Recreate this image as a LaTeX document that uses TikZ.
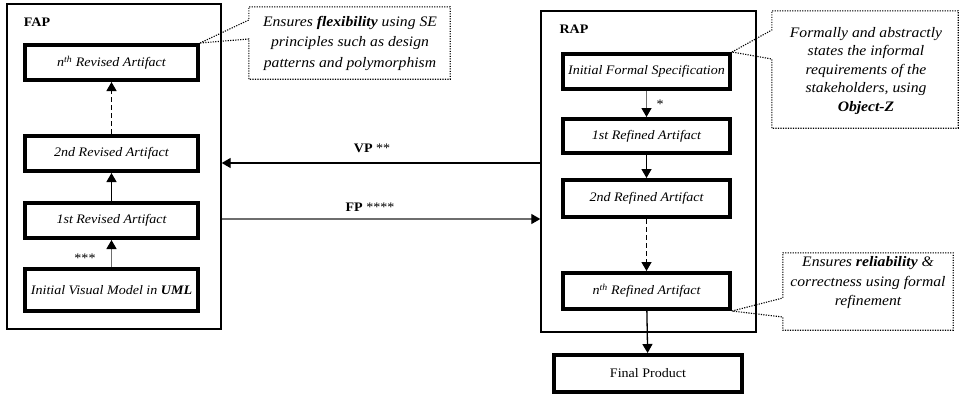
\documentclass[tikz,border=0pt]{standalone}
\usepackage{fontspec}
\setmainfont{Liberation Serif}[FakeStretch=1.08]
\usetikzlibrary{arrows.meta}
\begin{document}
\begin{tikzpicture}[x=1pt,y=-1pt,
  every node/.style={inner sep=0pt, font=\fontsize{13}{15}\selectfont},
  outerbox/.style={draw, line width=1.4pt, inner sep=0pt},
  artbox/.style={draw, line width=4pt, minimum width=173pt, minimum height=35pt, font=\fontsize{13}{15}\selectfont\itshape},
  lbl/.style={font=\fontsize{13}{15}\selectfont\bfseries},
  arr/.style={-{Triangle[length=9pt,width=10pt,color=black]}, line width=1.3pt},
  dsh/.style={dash pattern=on 5pt off 3pt},
  greyline/.style={draw={rgb,255:red,110;green,110;blue,110}},
  callout/.style={draw, dash pattern=on 1.2pt off 1.3pt, line width=1.1pt},
  cotext/.style={align=center, font=\fontsize{14.5}{#1}\selectfont\itshape}
]
\useasboundingbox (0,0) rectangle (963,400);

% FAP group
\node[outerbox, minimum width=214pt, minimum height=325pt] (fap) at (114,166.5) {};
\node[lbl] (faplbl) at (37,22) {FAP};
\node[artbox] (fn) at (111.5,62.5) {n\textsuperscript{th} Revised Artifact};
\node[artbox] (f2) at (111.5,153.5) {2nd Revised Artifact};
\node[artbox] (f1) at (111.5,220.5) {1st Revised Artifact};
\node[artbox, minimum height=42pt] (fi) at (111.5,290) {Initial Visual Model in \textbf{UML}};
\draw[arr, greyline] (fi) -- (f1);
\draw[arr] (f1) -- (f2);
\draw[arr, dsh] (f2) -- (fn);
\node (s3) at (85,258) {***};

% RAP group
\node[outerbox, minimum width=215pt, minimum height=321pt] (rap) at (648.5,171.5) {};
\node[lbl] (raplbl) at (574,29) {RAP};
\node[artbox, minimum width=167pt] (ri) at (646.5,71.5) {Initial Formal Specification};
\node[artbox, minimum width=167pt, minimum height=34pt] (r1) at (646.5,136) {1st Refined Artifact};
\node[artbox, minimum width=167pt, minimum height=37pt] (r2) at (646.5,198.5) {2nd Refined Artifact};
\node[artbox, minimum width=167pt, minimum height=36pt] (rn) at (646.5,291) {n\textsuperscript{th} Refined Artifact};
\node[artbox, minimum width=188pt, minimum height=37pt, font=\fontsize{13}{15}\selectfont] (fp) at (648,373.5) {Final Product};
\draw[arr, greyline] (ri) -- (r1);
\draw[arr] (r1) -- (r2);
\draw[arr, dsh] (r2) -- (rn);
\draw[arr] (rn) -- (fp);
\node (s1) at (660,104) {*};

% VP / FP connectors
\coordinate (vp) at (380,163);
\coordinate (fpc) at (380,219);
\draw[arr] (vp -| rap.west) -- (vp -| fap.east);
\draw[arr, greyline] (fpc -| fap.east) -- (fpc -| rap.west);
\node (vpl) at (372,148) {\textbf{VP} **};
\node (fpl) at (370,207) {\textbf{FP} ****};

% callouts
\node[minimum width=201pt, minimum height=72pt] (c1) at (349.5,43) {};
\draw[callout] (fn.north east) -- (c1.west |- 0,20) -- (c1.north west) -- (c1.north east) -- (c1.south east) -- (c1.south west) -- (c1.west |- 0,39) -- cycle;
\node[cotext=20.5] (t1) at (350,43) {Ensures \textbf{flexibility} using SE\\principles such as design\\patterns and polymorphism};

\node[minimum width=186pt, minimum height=117pt] (c2) at (865,69.5) {};
\draw[callout] (ri.north east) -- (c2.west |- 0,30) -- (c2.north west) -- (c2.north east) -- (c2.south east) -- (c2.south west) -- (c2.west |- 0,59) -- cycle;
\node[cotext=18.5] (t2) at (866,71) {Formally and abstractly\\states the informal\\requirements of the\\stakeholders, using\\\textbf{Object-Z}};

\node[minimum width=170pt, minimum height=77pt] (c3) at (868,291.5) {};
\draw[callout] (rn.south east) -- (c3.west |- 0,298) -- (c3.north west) -- (c3.north east) -- (c3.south east) -- (c3.south west) -- (c3.west |- 0,317) -- cycle;
\node[cotext=19.5] (t3) at (868,283) {Ensures \textbf{reliability} \&\\correctness using formal\\refinement};
\end{tikzpicture}
\end{document}
